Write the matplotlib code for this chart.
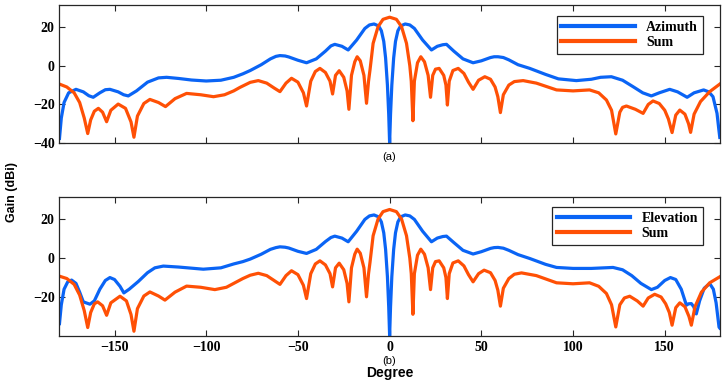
import matplotlib
matplotlib.use('Agg')
import matplotlib.pyplot as plt

# ---- panel (a) : azimuth pattern ----
az_deg = [-180, -179, -177.5, -175, -171, -167, -164, -161.6, -158, -155, -152.5, -148, -145, -142.5,
          -138, -132, -126, -121.6, -115, -108, -100, -92, -85, -80, -76, -70, -65, -62, -59.8, -57, -55,
          -50, -45.3, -40, -35, -32, -29.9, -26, -22.6, -18, -13.5, -11, -8.5, -6, -4.5, -3.2, -2.2,
          -1.2, -0.5, 0, 0.5, 1.2, 2.2, 3.2, 4.5, 6, 8.5, 11, 13.5, 18, 22.8, 26, 29, 31, 35, 40, 45.5,
          50, 55, 57, 59.1, 62, 65, 70, 76.4, 85, 92, 101.8, 110, 115, 120.9, 127, 133, 138, 142.7, 147,
          152.7, 157, 162.2, 166, 171.2, 174, 176.3, 178.5, 179.5, 180]
az_gain = [-37.5, -27, -19, -14, -12.2, -13.5, -15.5, -16.3, -14, -12.4, -12.2, -13.5, -15, -15.6,
           -13, -8.5, -6.3, -6.0, -6.6, -7.4, -7.9, -7.5, -6, -4.2, -2.5, 0.5, 3.5, 4.8, 5.2, 5.0, 4.5,
           2.8, 1.5, 3.5, 7.5, 10.2, 11.0, 10, 8.1, 13.2, 19.2, 21.0, 21.5, 20.5, 18, 12.5, 4,
           -10, -25, -40, -25, -10, 4, 12.5, 18, 20.5, 21.5, 21.0, 19.2, 13.2, 8.1, 10, 10.8, 11, 7.5, 3.5, 1.5,
           2.5, 4.2, 4.6, 4.6, 4.2, 3, 0.5, -1.4, -4.5, -6.8, -7.7, -7, -6, -5.7, -7.5, -11, -14, -15.6, -14,
           -12.2, -13.5, -16.3, -14, -12.5, -13.5, -16, -24.6, -33, -37]

sum_a_deg = [-180, -176, -172, -169, -166.5, -164.6, -163, -161, -158.8, -156.5, -154.3, -152, -148,
             -144, -141, -139.4, -137.5, -134, -130.7, -126, -122.2, -117, -110.7, -103, -96, -90, -85,
             -81.6, -76, -71.6, -67, -63, -59.8, -56.5, -53.5, -50, -47, -45.3, -43, -40.5, -38, -35,
             -32.5, -31.1, -29.5, -27.5, -25, -23.2, -22.2, -20.8, -19, -17.7, -16, -14, -12.6, -11.5,
             -10.7, -9, -6.3, -3.6, 0, 3.7, 6.5, 9.2, 11, 11.8, 12.7, 13.5, 15.2, 17, 19, 21, 22.3, 23.5,
             25, 27, 29.5, 30.7, 31.5, 32.5, 34.5, 37.4, 40.5, 43, 45.5, 48.5, 51.9, 55, 57.5, 59,
             60.4, 62, 65, 68, 72.8, 80, 91, 100, 109, 114, 118.2, 121, 123.3, 125.5, 127, 129.1, 134,
             138.2, 141, 143.6, 147, 150, 152, 154, 156, 158.2, 161, 163, 164.1, 166, 169.5, 174.5, 180]
sum_a_gain = [-9.5, -11, -14, -19, -27, -35, -28, -23.5, -22, -24, -28.9, -23, -19.8,
              -22, -29, -36.9, -26, -19.5, -17.4, -19, -21.1, -17, -14.3, -15, -16, -15, -13,
              -11.2, -8.6, -7.7, -9, -11.5, -13.4, -9, -6.5, -8.5, -14, -20.8, -8, -3, -1.4, -3.5,
              -8, -14.6, -5, -2.6, -6, -13, -22.5, -5, 2, 4.6, 2.5, -5, -19.4, -8,
              -2.2, 11.5, 20.1, 23.9, 25.0, 23.9, 20.1, 11.5, 0, -8, -28.4, -8, 1.5, 4.6, 2, -5, -16.3, -5,
              -1.8, -1.4, -5, -10, -20.3, -8, -2.5, -1.4, -4, -8.5, -12.2, -7.5, -5.7, -7, -11, -16,
              -24.2, -15, -10, -8.2, -7.7, -9, -12.5, -13, -12.5, -14, -17.7, -23, -35.2, -24, -21.5, -20.8, -22.5,
              -24.6, -20, -18.2, -19.5, -23, -27.5, -34.5, -25.5, -22.9, -25, -30, -34.4, -25, -18.5, -13.4, -9.5]

# ---- panel (b) : elevation pattern ----
el_deg = [-180, -179, -177.5, -175.5, -173.4, -171, -169, -167, -163.4, -161, -158, -155, -152.5, -150,
          -147, -144.9, -142, -137, -132, -128, -123.4, -115, -101.6, -92, -85, -80, -76, -70, -65, -62,
          -59.8, -57, -55, -50, -45.3, -40, -35, -32, -29.9, -26, -22.6, -18, -13.5, -11, -8.5, -6, -4.5,
          -3.2, -2.2, -1.2, -0.5, 0, 0.5, 1.2, 2.2, 3.2, 4.5, 6, 8.5, 11, 13.5, 18, 22.8, 26, 29, 31, 35,
          40, 45.5, 50, 55, 57, 59.1, 62, 65, 70, 76.4, 85, 91, 100, 110, 121.8, 127, 132, 137, 142.7, 146,
          150, 153.1, 156, 159, 161.8, 163, 164.5, 165.8, 167.2, 169, 171.5, 174.5, 176.5, 178, 179.6, 180]
el_gain = [-33.7, -24, -16, -12.2, -11.3, -13, -17.5, -22.5, -23.7, -22, -16, -11.5, -10, -11,
           -14.5, -17.9, -16, -12, -7.5, -5, -4.1, -4.6, -5.7, -5, -3, -1.8, -0.5, 2, 4.5, 5.4,
           5.8, 5.6, 5.2, 3.5, 2.4, 4.5, 8.5, 10.6, 11.3, 10.3, 8.4, 13.8, 19.9, 21.7, 22.2, 21.2, 18.6,
           13, 4.5, -9.5, -25, -40, -25, -9.5, 4.5, 13, 18.6, 21.2, 22.2, 21.7, 19.9, 13.8, 8.4, 10.3, 11.1, 11.3, 8,
           4, 2.1, 3.3, 5, 5.4, 5.5, 5.1, 4, 1.8, -0.2, -3.2, -4.8, -5.3, -5.3, -4.8, -6, -9, -13, -16.2, -15,
           -11.5, -10, -11, -16, -24.2, -23.5, -23.4, -25, -28.7, -22, -15.5, -13.1, -16, -23, -35.5, -36]

sum_b_deg = [-180, -176, -172, -169, -166.5, -164.6, -163, -161, -159.2, -156.5, -154.3, -152, -147,
             -143.5, -141, -139.4, -137.5, -134, -130.7, -126, -122.5, -117, -110.7, -103, -95.3, -89,
             -84, -80, -76, -71.6, -67, -63, -59.8, -56.5, -53.5, -50, -47, -45.3, -43, -40.5, -38,
             -35, -32.5, -31.1, -29.5, -27.5, -25, -23.2, -22.2, -20.8, -19, -17.7, -16, -14, -12.6,
             -11.5, -10.7, -9, -6.3, -3.6, 0, 3.7, 6.5, 9.2, 11, 11.8, 12.7, 13.5, 15.2, 17, 19, 21,
             22.3, 23.5, 25, 27, 29.5, 30.7, 31.5, 32.5, 34.5, 37.4, 40.5, 43, 45.5, 48.5, 51.5, 55,
             57.5, 59, 60.4, 62, 65, 68, 71.9, 80, 91, 100, 109, 114, 118.2, 121, 123.3, 125.5, 128,
             130.9, 135, 138.2, 141, 144.5, 148, 150.5, 152.5, 154, 156, 158.2, 161, 163.2, 164.5,
             166.5, 170, 174.5, 180]
sum_b_gain = [-9.3, -10.5, -13.5, -19, -27, -35.7, -28, -23.5, -22.5, -24.5, -29.4, -23, -19.6,
              -22, -29, -37.6, -26, -19.5, -17.4, -19.5, -21.6, -17.5, -14.4, -15, -16.2, -15,
              -12.5, -10.5, -8.8, -7.8, -9, -11.5, -13.5, -9, -6.5, -8.5, -14, -20.8, -8, -3, -1.4,
              -3.5, -8, -14.8, -5, -2.6, -6, -13, -22.5, -5, 2, 4.6, 2.5, -5, -19.9,
              -8, -2.2, 11.5, 20.1, 23.9, 25.0, 23.9, 20.1, 11.5, 0, -8, -28.9, -8, 1.5, 4.6, 2, -5,
              -16.2, -5, -1.8, -1.4, -5, -10, -20.8, -8, -2.5, -1.4, -4, -8.5, -12.2, -8, -6.2, -7.5,
              -11.5, -16.5, -24.7, -15.5, -10.5, -8.3, -7.6, -9, -12.7, -13.2, -12.7, -14.5, -18.2, -24, -35.4, -24, -20.5,
              -19.6, -22, -24.7, -20.5, -18.6, -20, -23.5, -28, -34.5, -25.5, -23, -25, -30, -34.5,
              -25, -17.5, -12.7, -9.6]

blue = '#0a64f5'
orange = '#ff5005'
serif_bold = {'family': 'Liberation Serif', 'weight': 'bold', 'size': 10}


def style_axes(ax, ylow, yticks, show_xlabels):
    # matlab-like box with inward ticks on all four sides
    ax.set_xlim(-180, 180)
    ax.set_ylim(ylow, 31.3)
    ax.set_xticks([-150, -100, -50, 0, 50, 100, 150])
    ax.set_yticks(yticks)
    ax.tick_params(direction='in', top=True, right=True, length=4, width=0.8, colors='#262626')
    for lab in ax.get_xticklabels() + ax.get_yticklabels():
        lab.set_fontfamily('Liberation Serif')
        lab.set_fontweight('bold')
        lab.set_fontsize(10)
        lab.set_color('black')
    if not show_xlabels:
        ax.set_xticklabels([])
    for sp in ax.spines.values():
        sp.set_color('#262626')
        sp.set_linewidth(0.9)


fig = plt.figure(figsize=(7.28, 3.83), dpi=100)
ax1 = fig.add_axes([0.0817, 0.626, 0.907, 0.361])
ax2 = fig.add_axes([0.0817, 0.1235, 0.907, 0.3615])

ax1.plot(az_deg, az_gain, color=blue, lw=2.3, label='Azimuth')
ax1.plot(sum_a_deg, sum_a_gain, color=orange, lw=2.3, label='Sum')
style_axes(ax1, -40, [-40, -20, 0, 20], False)

ax2.plot(el_deg, el_gain, color=blue, lw=2.3, label='Elevation')
ax2.plot(sum_b_deg, sum_b_gain, color=orange, lw=2.3, label='Sum')
style_axes(ax2, -39.9, [-20, 0, 20], True)

for ax, top in ((ax1, 0.97), (ax2, 0.98)):
    leg = ax.legend(loc='upper right', prop=serif_bold, handlelength=5.3, fancybox=False,
                    framealpha=1, edgecolor='#262626', borderpad=0.35, labelspacing=0.15,
                    bbox_to_anchor=(0.985, top))
    leg.get_frame().set_linewidth(0.9)
    for line in leg.get_lines():
        line.set_linewidth(3)

# panel captions and shared axis titles
fig.text(0.535, 0.59, '(a)', ha='center', va='center', fontsize=8, family='Liberation Sans')
fig.text(0.535, 0.057, '(b)', ha='center', va='center', fontsize=8, family='Liberation Sans')
fig.text(0.535, 0.027, 'Degree', ha='center', va='center', fontsize=10, weight='bold',
         family='Liberation Sans')
fig.text(0.017, 0.5, 'Gain (dBi)', ha='center', va='center', rotation=90, fontsize=9,
         weight='bold', family='Liberation Sans')

fig.savefig('out.png', dpi=100)
